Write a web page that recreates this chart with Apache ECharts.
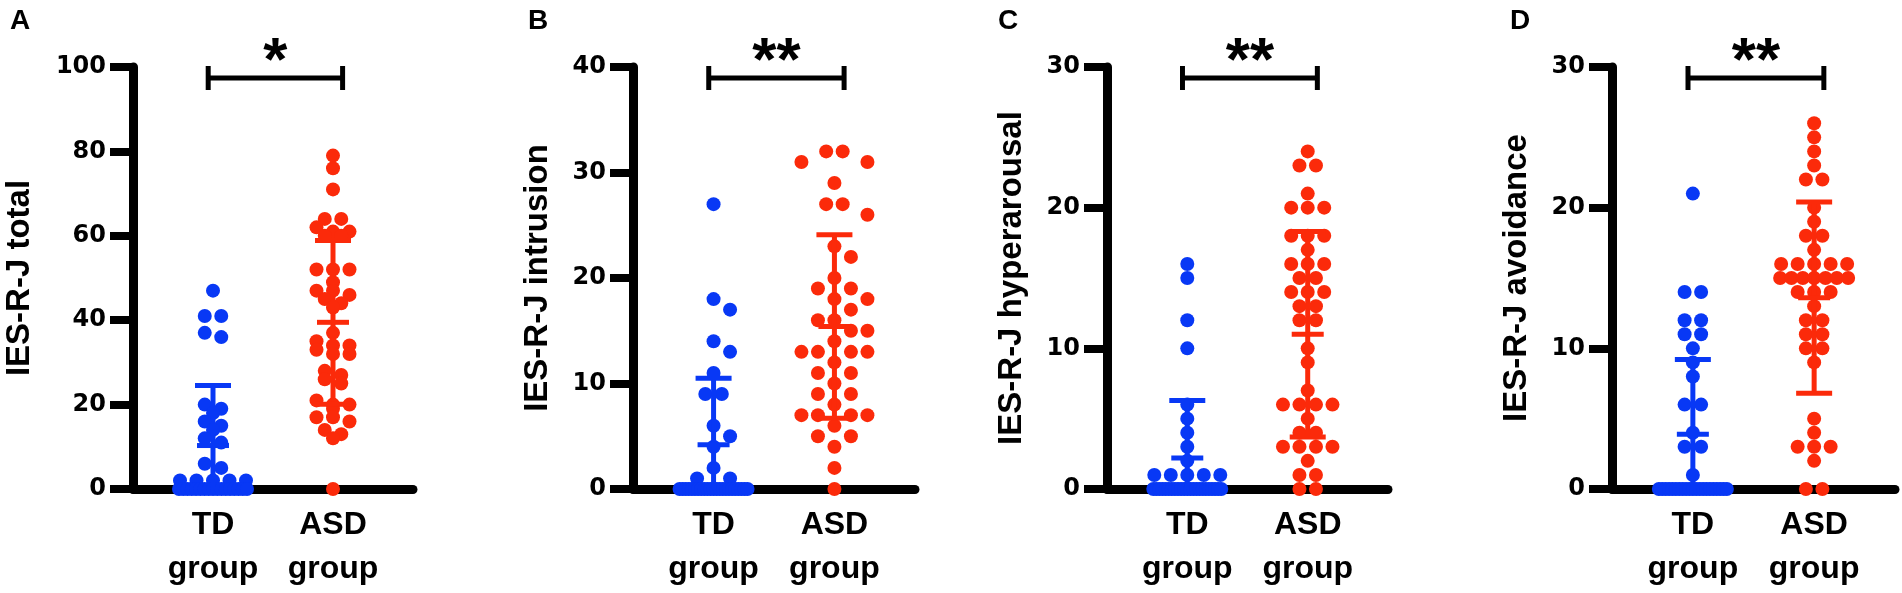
<!DOCTYPE html>
<html>
<head>
<meta charset="utf-8">
<title>IES-R-J scores, TD vs ASD</title>
<script src="https://cdn.jsdelivr.net/npm/echarts@6.0.0/dist/echarts.min.js"></script>
<style>
  html, body { margin: 0; padding: 0; background: #fff; }
  #chart { width: 1902px; height: 593px; }
</style>
</head>
<body>
<div id="chart"></div>
<script>
// groups and panel texts
const groups = ['TD\ngroup', 'ASD\ngroup'];
const panelLetters = ['A', 'B', 'C', 'D'];
const axisTitles = ['IES-R-J total', 'IES-R-J intrusion', 'IES-R-J hyperarousal', 'IES-R-J avoidance'];
const yMax = [100, 40, 30, 30];
const yStep = [20, 10, 10, 10];
const stars = ['*', '**', '**', '**'];

// individual scores
const tdTotal = [47, 41, 41, 37, 36, 20, 19, 18, 16, 15, 14, 12, 11, 6, 5, 2, 2, 2, 2, 2,
  0, 0, 0, 0, 0, 0, 0, 0, 0, 0, 0, 0, 0, 0, 0, 0, 0];
const asdTotal = [79, 76, 71, 64, 64, 62, 61, 61, 60, 60, 52, 52, 52, 49, 47, 47, 46, 45, 44, 43, 37,
  35, 34, 34, 33, 32, 32, 28, 27, 26, 25, 21, 20, 20, 19, 17, 17, 16, 14, 13, 12, 0];

const tdIntrusion = [27, 18, 17, 14, 13, 11, 9, 9, 6, 5, 4, 2, 1, 1,
  0, 0, 0, 0, 0, 0, 0, 0, 0, 0, 0, 0, 0, 0, 0, 0, 0, 0, 0, 0, 0, 0, 0];
const asdIntrusion = [32, 32, 31, 31, 29, 27, 27, 26, 23, 22, 20, 19, 19, 18, 18, 17, 16, 16, 15, 15, 14,
  13, 13, 13, 13, 12, 11, 11, 10, 9, 9, 8, 7, 7, 7, 7, 6, 5, 5, 4, 2, 0];

const tdHyper = [16, 15, 12, 10, 6, 5, 4, 3, 2, 1, 1, 1, 1, 1,
  0, 0, 0, 0, 0, 0, 0, 0, 0, 0, 0, 0, 0, 0, 0, 0, 0, 0, 0, 0, 0, 0, 0];
const asdHyper = [24, 23, 23, 21, 20, 20, 20, 18, 18, 18, 17, 16, 16, 16, 15, 15, 14, 14, 14, 13, 13,
  12, 12, 10, 9, 7, 6, 6, 6, 6, 5, 4, 4, 3, 3, 3, 3, 2, 1, 1, 0, 0];

const tdAvoid = [21, 14, 14, 12, 12, 11, 11, 10, 9, 8, 6, 6, 4, 3, 3, 1,
  0, 0, 0, 0, 0, 0, 0, 0, 0, 0, 0, 0, 0, 0, 0, 0, 0, 0, 0, 0, 0];
const asdAvoid = [26, 25, 24, 23, 22, 22, 20, 19, 18, 18, 17, 16, 16, 16, 16, 16, 15, 15, 15, 15, 15,
  15, 15, 14, 14, 14, 13, 12, 12, 11, 11, 10, 10, 9, 5, 4, 3, 3, 3, 2, 0, 0];

// mean and SD
const tdMean = [10.3, 4.2, 2.2, 3.9];
const tdSd = [14.2, 6.3, 4.1, 5.3];
const asdMean = [39.5, 15.4, 11.0, 13.6];
const asdSd = [19.4, 8.7, 7.3, 6.8];

const tdData = [tdTotal, tdIntrusion, tdHyper, tdAvoid];
const asdData = [asdTotal, asdIntrusion, asdHyper, asdAvoid];

const BLUE = '#0838f5';
const RED = '#fb2a0a';
const FONT = 'Liberation Sans, Arial, Helvetica, sans-serif';
const TICK_FONT = 'DejaVu Sans, Liberation Sans, sans-serif';

// layout
const gridLeft = [133, 633, 1107, 1612];
const gridWidth = [280, 282, 281, 283];
const GRID_TOP = 67;
const GRID_H = 422;
const X_MIN = 1 / 3, X_MAX = 8 / 3;
const DOT = 14;
// vertical reach (px) within which neighbouring rows push each other aside
const rowPush = [0, 11, 11, 11];

// Prism-like scatter: dots closer than ROW px share a row, rows are centred;
// a row that would sit on a neighbouring row is moved to free slots instead
function swarm(values, center, pxPerUnit, pxPerX, push) {
  const ROW = 6, STEP = 16.5, HALF = 34, GAP = 14;
  const order = values.map((v, i) => i).sort((a, b) => values[b] - values[a]);
  const rows = [];
  order.forEach(i => {
    const last = rows[rows.length - 1];
    if (last && (values[last[0]] - values[i]) * pxPerUnit < ROW) last.push(i);
    else rows.push([i]);
  });
  const placed = [];
  const out = new Array(values.length);
  const hits = (x, y) => placed.some(q => Math.abs(q.y - y) < push && Math.abs(q.x - x) < GAP);
  rows.forEach(r => {
    const n = r.length;
    const packed = n > 1 && (n - 1) * STEP > 2 * HALF;
    const step = packed ? 2 * HALF / (n - 1) : STEP;
    let xs = r.map((i, k) => (k - (n - 1) / 2) * step);
    if (!packed && xs.some((x, k) => hits(x, values[r[k]] * pxPerUnit))) {
      const used = [];
      xs = r.map((i, k) => {
        const y = values[i] * pxPerUnit;
        for (let j = 0; j <= 3; j++) {
          for (const s of [1, -1]) {
            const x = s * j * STEP;
            if (used.indexOf(x) < 0 && !hits(x, y)) { used.push(x); return x; }
          }
        }
        return (k - (n - 1) / 2) * step;
      });
    }
    r.forEach((i, k) => {
      if (!packed) placed.push({ x: xs[k], y: values[i] * pxPerUnit });
      out[i] = [center + xs[k] / pxPerX, values[i]];
    });
  });
  return out;
}

function renderErrorBar(params, api) {
  const x = api.value(0), m = api.value(1), s = api.value(2);
  const top = api.coord([x, m + s]);
  const mid = api.coord([x, m]);
  const low = m - s;
  const bot = api.coord([x, Math.max(low, 0)]);
  const st = { stroke: api.visual('color'), lineWidth: 5 };
  const kids = [
    { type: 'line', shape: { x1: top[0], y1: top[1], x2: bot[0], y2: bot[1] }, style: st },
    { type: 'line', shape: { x1: top[0] - 18, y1: top[1], x2: top[0] + 18, y2: top[1] }, style: st },
    { type: 'line', shape: { x1: mid[0] - 16, y1: mid[1], x2: mid[0] + 16, y2: mid[1] }, style: st }
  ];
  if (low > 0) {
    kids.push({ type: 'line', shape: { x1: bot[0] - 18, y1: bot[1], x2: bot[0] + 18, y2: bot[1] }, style: st });
  }
  return { type: 'group', children: kids };
}

function makeBracket(p) {
  return function (params, api) {
    const a = api.coord([api.value(0), yMax[p]]);
    const b = api.coord([api.value(1), yMax[p]]);
    const y0 = a[1];
    const st = { stroke: '#000', lineWidth: 5 };
    return {
      type: 'group',
      children: [
        { type: 'line', shape: { x1: a[0], y1: y0 + 11, x2: b[0], y2: y0 + 11 }, style: st },
        { type: 'line', shape: { x1: a[0], y1: y0 - 1, x2: a[0], y2: y0 + 23 }, style: st },
        { type: 'line', shape: { x1: b[0], y1: y0 - 1, x2: b[0], y2: y0 + 23 }, style: st },
        {
          type: 'text',
          style: {
            text: stars[p], x: (a[0] + b[0]) / 2, y: y0 - 4,
            align: 'center', verticalAlign: 'middle',
            font: 'bold 62px ' + FONT, fill: '#000'
          }
        }
      ]
    };
  };
}

const grid = [], xAxis = [], yAxis = [], series = [], title = [];
const letterLeft = [10, 528, 998, 1510];

for (let p = 0; p < 4; p++) {
  grid.push({ left: gridLeft[p], top: GRID_TOP, width: gridWidth[p], height: GRID_H });
  title.push({
    text: panelLetters[p], left: letterLeft[p], top: 7, padding: 0,
    textStyle: { fontSize: 28, fontWeight: 'bold', color: '#000', fontFamily: FONT }
  });
  xAxis.push({
    gridIndex: p, type: 'value', min: X_MIN, max: X_MAX,
    axisLine: { show: true, onZero: false, lineStyle: { color: '#000', width: 9 } },
    axisTick: { show: false },
    splitLine: { show: false },
    axisLabel: {
      customValues: [1, 2],
      formatter: function (v) { return groups[Math.round(v) - 1]; },
      fontSize: 32, fontWeight: 'bold', color: '#000', fontFamily: FONT,
      lineHeight: 44, margin: 14
    }
  });
  yAxis.push({
    gridIndex: p, type: 'value', min: 0, max: yMax[p], interval: yStep[p],
    name: axisTitles[p], nameLocation: 'middle', nameGap: p === 0 ? 97 : 79,
    nameTextStyle: { fontSize: 33, fontWeight: 'bold', color: '#000', fontFamily: FONT },
    axisLine: { show: true, lineStyle: { color: '#000', width: 9 } },
    axisTick: { show: true, length: 23, lineStyle: { color: '#000', width: 8 } },
    axisLabel: { fontSize: 24, fontWeight: 'bold', color: '#000', margin: 27, fontFamily: TICK_FONT },
    splitLine: { show: false }
  });

  const pxPerUnit = GRID_H / yMax[p];
  const pxPerX = gridWidth[p] / (X_MAX - X_MIN);
  series.push({
    type: 'scatter', xAxisIndex: p, yAxisIndex: p, symbolSize: DOT, clip: false, z: 3,
    itemStyle: { color: BLUE, opacity: 1 },
    data: swarm(tdData[p], 1, pxPerUnit, pxPerX, rowPush[p])
  });
  series.push({
    type: 'scatter', xAxisIndex: p, yAxisIndex: p, symbolSize: DOT, clip: false, z: 3,
    itemStyle: { color: RED, opacity: 1 },
    data: swarm(asdData[p], 2, pxPerUnit, pxPerX, rowPush[p])
  });
  series.push({
    type: 'custom', xAxisIndex: p, yAxisIndex: p, z: 4, clip: false,
    renderItem: renderErrorBar,
    data: [
      { value: [1, tdMean[p], tdSd[p]], itemStyle: { color: BLUE } },
      { value: [2, asdMean[p], asdSd[p]], itemStyle: { color: RED } }
    ]
  });
  series.push({
    type: 'custom', xAxisIndex: p, yAxisIndex: p, z: 4, clip: false,
    renderItem: makeBracket(p),
    data: [[0.96, 2.08]]
  });
}

const chart = echarts.init(document.getElementById('chart'));
chart.setOption({
  animation: false,
  backgroundColor: '#fff',
  title: title,
  grid: grid,
  xAxis: xAxis,
  yAxis: yAxis,
  series: series
});
</script>
</body>
</html>
